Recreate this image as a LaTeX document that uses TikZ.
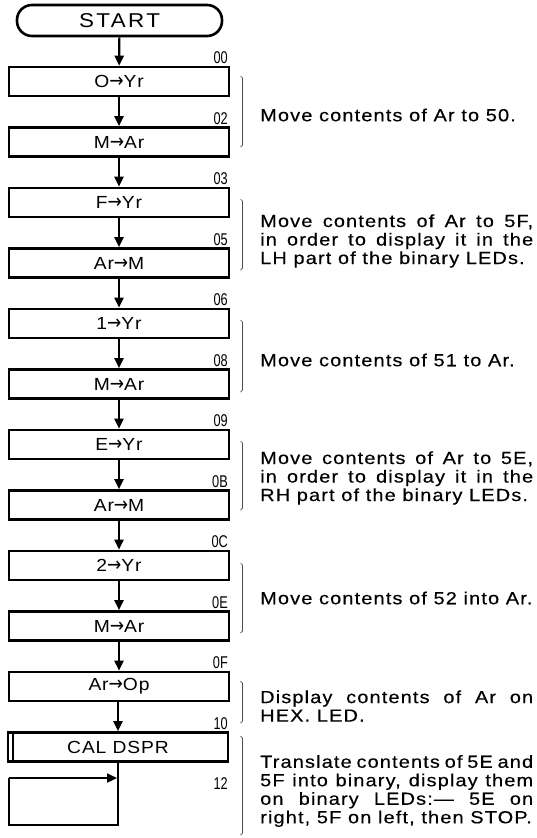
\documentclass[tikz,border=0pt]{standalone}
\usepackage{fontspec}
\setmainfont{Liberation Sans}[FakeStretch=1.14, LetterSpace=6.5, FakeBold=0.3]
\newfontfamily\boxfont{Liberation Sans}[FakeStretch=1.1, LetterSpace=5]
\newfontfamily\addrfont{Liberation Sans}[FakeStretch=0.75]
\newfontfamily\startfont{Liberation Sans}[FakeStretch=1.12, LetterSpace=12]
\newfontfamily\arrowfont{DejaVu Sans}[FakeStretch=0.85]
\newcommand\gives{{\arrowfont\fontsize{20}{20}\selectfont →}}
\usetikzlibrary{arrows.meta}
\begin{document}
\begin{tikzpicture}[x=1pt,y=-1pt,
  box/.style={draw, line width=2.6pt, minimum width=220pt, minimum height=29pt, inner sep=0pt, fill=white, font=\boxfont\fontsize{17.5}{20}\selectfont},
  term/.style={draw, line width=2.6pt, minimum width=205pt, minimum height=31pt, inner sep=0pt, rounded corners=15pt, font=\startfont\fontsize{20}{22}\selectfont},
  flow/.style={-{Triangle[length=10pt,width=9pt]}, line width=2.2pt},
  wire/.style={line width=2.2pt},
  addr/.style={anchor=base east, inner sep=0pt, font=\addrfont\fontsize{17}{17}\selectfont},
  brk/.style={line width=0.7pt, draw=black!70},
  desc/.style={anchor=west, inner sep=0pt, text width=273pt, align=justify, font=\fontsize{17.5}{18.5}\selectfont}]
\useasboundingbox (0,0) rectangle (536,838);

\node[term] (start) at (119.5,20.5) {START};

\node[box] (b0)  at (119, 81.5)  {O\gives Yr};
\node[box] (b1)  at (119,142)    {M\gives Ar};
\node[box] (b2)  at (119,202.5)  {F\gives Yr};
\node[box] (b3)  at (119,263)    {Ar\gives M};
\node[box] (b4)  at (119,323.5)  {1\gives Yr};
\node[box] (b5)  at (119,384)    {M\gives Ar};
\node[box] (b6)  at (119,444.5)  {E\gives Yr};
\node[box] (b7)  at (119,505)    {Ar\gives M};
\node[box] (b8)  at (119,565.5)  {2\gives Yr};
\node[box] (b9)  at (119,626)    {M\gives Ar};
\node[box] (b10) at (119,686.5)  {Ar\gives Op};
\node[box] (cal) at (118,747)    {CAL DSPR};
\draw[line width=2.4pt] ([xshift=6pt]cal.north west) -- ([xshift=6pt]cal.south west);

% addresses
\node[addr] (a0)  at (228, 63.5)  {00};
\node[addr] (a1)  at (228,124)    {02};
\node[addr] (a2)  at (228,184.5)  {03};
\node[addr] (a3)  at (228,245)    {05};
\node[addr] (a4)  at (228,305.5)  {06};
\node[addr] (a5)  at (228,366)    {08};
\node[addr] (a6)  at (228,426.5)  {09};
\node[addr] (a7)  at (228,487)    {0B};
\node[addr] (a8)  at (228,547.5)  {0C};
\node[addr] (a9)  at (228,608)    {0E};
\node[addr] (a10) at (228,668.5)  {0F};
\node[addr] (a11) at (228,729)    {10};
\node[addr] (a12) at (228,789)    {12};

% flow
\draw[flow] (start) -- (b0);
\draw[flow] (b0) -- (b1);
\draw[flow] (b1) -- (b2);
\draw[flow] (b2) -- (b3);
\draw[flow] (b3) -- (b4);
\draw[flow] (b4) -- (b5);
\draw[flow] (b5) -- (b6);
\draw[flow] (b6) -- (b7);
\draw[flow] (b7) -- (b8);
\draw[flow] (b8) -- (b9);
\draw[flow] (b9) -- (b10);
\draw[flow] (b10.south -| cal.south) -- (cal);

\coordinate (l1) at (118,825);
\coordinate (l2) at (9,825);
\coordinate (l3) at (9,778);
\coordinate (l4) at (117,778);
\draw[wire] (cal.south) -- (l1) -- (l2) -- (l3);
\draw[flow] (l3) -- (l4);

% brackets
\draw[brk] (240.5,76)  -- (242.5,78)  -- (242.5,145) -- (240.5,147);
\draw[brk] (240.5,199) -- (242.5,201) -- (242.5,268) -- (240.5,270);
\draw[brk] (240.5,320) -- (242.5,322) -- (242.5,390) -- (240.5,392);
\draw[brk] (240.5,441) -- (242.5,443) -- (242.5,508) -- (240.5,510);
\draw[brk] (240.5,563) -- (242.5,565) -- (242.5,631) -- (240.5,633);
\draw[brk] (240.5,681) -- (242.5,683) -- (242.5,721) -- (240.5,723);
\draw[brk] (240.5,736) -- (242.5,738) -- (242.5,833) -- (240.5,835);

% descriptions
\node[desc] (t1) at (260,115) {Move contents of Ar to 50.};
\node[desc] (t2) at (260,241) {Move contents of Ar to 5F,\linebreak in order to display it in the\linebreak LH part of the binary LEDs.};
\node[desc] (t3) at (260,360) {Move contents of 51 to Ar.};
\node[desc] (t4) at (260,478) {Move contents of Ar to 5E,\linebreak in order to display it in the\linebreak RH part of the binary LEDs.};
\node[desc] (t5) at (260,598) {Move contents of 52 into Ar.};
\node[desc] (t6) at (260,706) {Display contents of Ar on\linebreak HEX. LED.};
\node[desc] (t7) at (260,791) {Translate contents of 5E and\linebreak 5F into binary, display them\linebreak on binary LEDs:— 5E on\linebreak right, 5F on left, then STOP.};
\end{tikzpicture}
\end{document}
